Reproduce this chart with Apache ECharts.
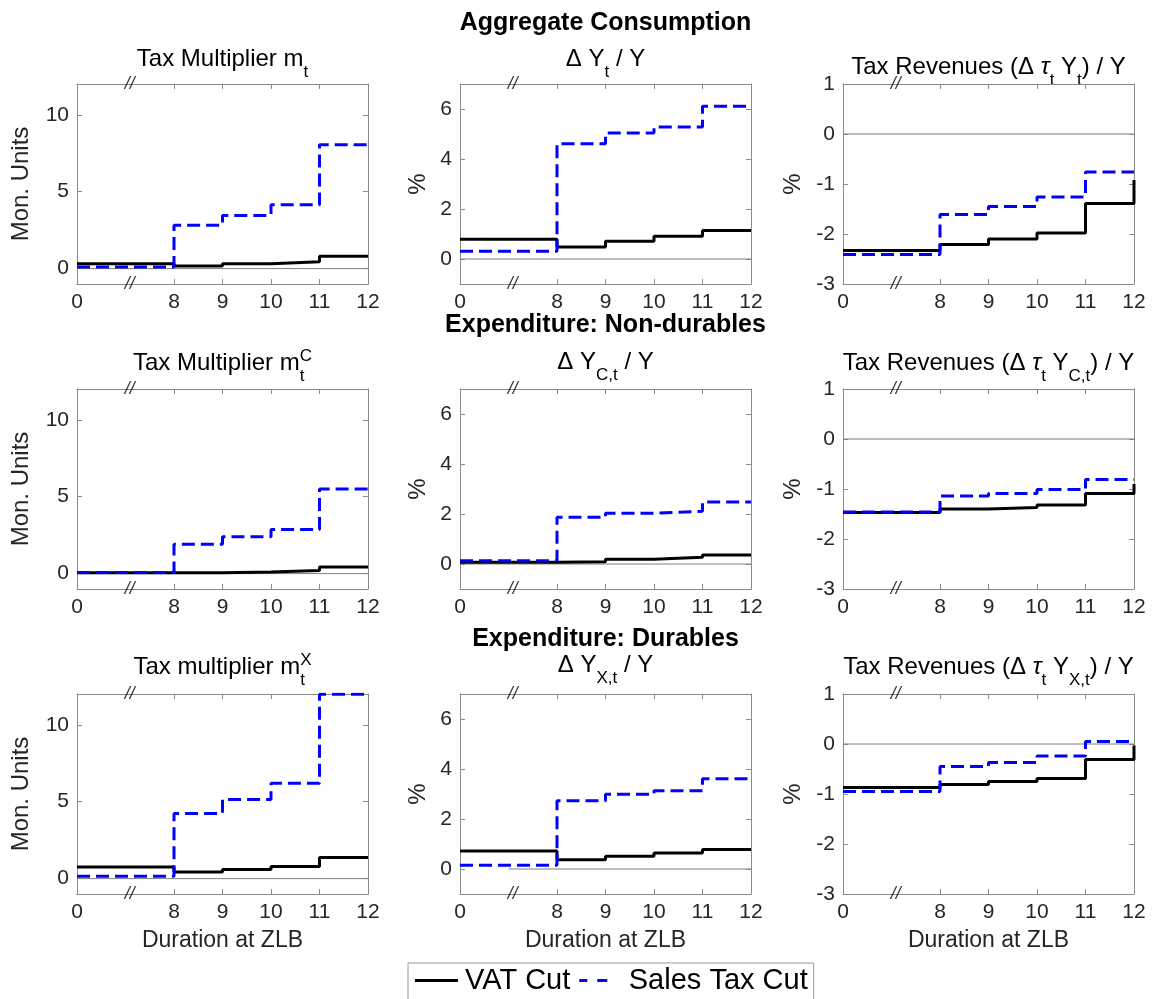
<!DOCTYPE html>
<html>
<head>
<meta charset="utf-8">
<script src="https://cdn.jsdelivr.net/npm/echarts@6/dist/echarts.min.js"></script>
<style>
  html, body { margin: 0; padding: 0; background: #fff; }
  #chart { width: 1154px; height: 999px; }
</style>
</head>
<body>
<div id="chart"></div>
<script>
// Duration at the ZLB (quarters) and the labels shown on the x axis
const durations = [0, 8, 9, 10, 11, 12];
const tickLabels = ['0', '8', '9', '10', '11', '12'];
const seriesNames = ['VAT Cut', 'Sales Tax Cut'];

// Aggregate consumption
const aggMultVat      = [0.32, 0.17, 0.32, 0.45, 0.80, 0.80];
const aggMultSales    = [0.10, 2.82, 3.46, 4.15, 8.05, 8.05];
const aggOutputVat    = [0.79, 0.48, 0.71, 0.91, 1.14, 1.14];
const aggOutputSales  = [0.31, 4.61, 5.04, 5.28, 6.11, 6.11];
const aggRevVat       = [-2.33, -2.21, -2.10, -1.98, -1.39, -0.92];
const aggRevSales     = [-2.41, -1.61, -1.45, -1.26, -0.76, -0.76];

// Expenditure: non-durables
const ndMultVat       = [0.05, 0.05, 0.10, 0.20, 0.43, 0.43];
const ndMultSales     = [0.08, 1.91, 2.39, 2.87, 5.50, 5.50];
const ndOutputVat     = [0.07, 0.09, 0.19, 0.27, 0.36, 0.36];
const ndOutputSales   = [0.13, 1.87, 2.03, 2.11, 2.48, 2.48];
const ndRevVat        = [-1.47, -1.40, -1.37, -1.32, -1.09, -0.90];
const ndRevSales      = [-1.46, -1.14, -1.09, -1.01, -0.81, -0.81];

// Expenditure: durables
const dMultVat        = [0.76, 0.43, 0.59, 0.78, 1.37, 1.37];
const dMultSales      = [0.15, 4.24, 5.15, 6.20, 11.98, 11.98];
const dOutputVat      = [0.72, 0.37, 0.51, 0.64, 0.78, 0.78];
const dOutputSales    = [0.15, 2.73, 2.99, 3.13, 3.61, 3.61];
const dRevVat         = [-0.87, -0.81, -0.75, -0.69, -0.31, -0.03];
const dRevSales       = [-0.95, -0.45, -0.37, -0.24, 0.05, 0.05];

// Broken x axis: durations 1..7 are collapsed into a single unit
const axisPos = d => (d === 0 ? 0 : d - 6);
const breakPos = 1.09;

const FONT = '"Liberation Sans", Arial, Helvetica, sans-serif';
const TICK_COLOR = '#262626';
const BOX_COLOR = '#8a8a8a';

const colLeft = [77, 460, 843];
const colWidth = 291;
const rowTop = [84, 389, 694];
const rowHeight = 200;

const columnAxes = [
  { min: -1, max: 12, ticks: [0, 5, 10], name: 'Mon. Units', nameGap: 44 },
  { min: -1, max: 7, ticks: [0, 2, 4, 6], name: '%', nameGap: 30 },
  { min: -3, max: 1, ticks: [-3, -2, -1, 0, 1], name: '%', nameGap: 38 }
];

const sectionTitles = ['Aggregate Consumption', 'Expenditure: Non-durables', 'Expenditure: Durables'];
const sectionBaselines = [32, 334, 648];

// Title pieces: plain text, subscripts (sub) and superscripts (sup)
const panels = [
  { row: 0, col: 0, vat: aggMultVat, sales: aggMultSales, base: 68,
    title: [{ t: 'Tax Multiplier m' }, { sub: 't' }] },
  { row: 0, col: 1, vat: aggOutputVat, sales: aggOutputSales, base: 68,
    title: [{ t: '\u0394 Y' }, { sub: 't' }, { t: ' / Y' }] },
  { row: 0, col: 2, vat: aggRevVat, sales: aggRevSales, base: 76,
    title: [{ t: 'Tax Revenues (\u0394 ' }, { t: '\u03c4', italic: true }, { sub: 't' }, { t: ' Y' }, { sub: 't' }, { t: ') / Y' }] },
  { row: 1, col: 0, vat: ndMultVat, sales: ndMultSales, base: 372,
    title: [{ t: 'Tax Multiplier m' }, { sub: 't', sup: 'C' }] },
  { row: 1, col: 1, vat: ndOutputVat, sales: ndOutputSales, base: 371,
    title: [{ t: '\u0394 Y' }, { sub: 'C,t' }, { t: ' / Y' }] },
  { row: 1, col: 2, vat: ndRevVat, sales: ndRevSales, base: 372,
    title: [{ t: 'Tax Revenues (\u0394 ' }, { t: '\u03c4', italic: true }, { sub: 't' }, { t: ' Y' }, { sub: 'C,t' }, { t: ') / Y' }] },
  { row: 2, col: 0, vat: dMultVat, sales: dMultSales, base: 676,
    title: [{ t: 'Tax multiplier m' }, { sub: 't', sup: 'X' }] },
  { row: 2, col: 1, vat: dOutputVat, sales: dOutputSales, base: 674, zeroFrom: 1,
    title: [{ t: '\u0394 Y' }, { sub: 'X,t' }, { t: ' / Y' }] },
  { row: 2, col: 2, vat: dRevVat, sales: dRevSales, base: 676,
    title: [{ t: 'Tax Revenues (\u0394 ' }, { t: '\u03c4', italic: true }, { sub: 't' }, { t: ' Y' }, { sub: 'X,t' }, { t: ') / Y' }] }
];

const MAIN_SIZE = 24, SUB_SIZE = 17;
const measureCtx = document.createElement('canvas').getContext('2d');
function fontOf(size, italic, bold) {
  return (italic ? 'italic ' : '') + (bold ? 'bold ' : '') + size + 'px ' + FONT;
}
function widthOf(text, font) {
  measureCtx.font = font;
  return measureCtx.measureText(text).width;
}
function textEl(text, x, baseline, size, opts) {
  opts = opts || {};
  const font = fontOf(size, opts.italic, opts.bold);
  return {
    type: 'text', x: x, y: baseline - 0.35 * size, silent: true,
    style: {
      text: text, font: font, fill: '#000',
      align: opts.align || 'left', textAlign: opts.align || 'left',
      verticalAlign: 'middle', textVerticalAlign: 'middle'
    }
  };
}
function titleElements(pieces, cx, baseline) {
  const widths = pieces.map(p => {
    if (p.t !== undefined) return widthOf(p.t, fontOf(MAIN_SIZE, p.italic));
    const ws = widthOf(p.sub || '', fontOf(SUB_SIZE));
    const wp = widthOf(p.sup || '', fontOf(SUB_SIZE));
    return Math.max(ws, wp);
  });
  const total = widths.reduce((a, b) => a + b, 0);
  let x = cx - total / 2;
  const els = [];
  pieces.forEach((p, i) => {
    if (p.t !== undefined) {
      els.push(textEl(p.t, x, baseline, MAIN_SIZE, { italic: p.italic }));
    } else {
      if (p.sub) els.push(textEl(p.sub, x, baseline + 10, SUB_SIZE));
      if (p.sup) els.push(textEl(p.sup, x, baseline - 10, SUB_SIZE));
    }
    x += widths[i];
  });
  return els;
}

const grids = [], xAxes = [], yAxes = [], series = [], graphics = [];
const tickValues = durations.map(axisPos);

panels.forEach((p, gi) => {
  const ax = columnAxes[p.col];
  const left = colLeft[p.col], top = rowTop[p.row];
  grids.push({ left: left, top: top, width: colWidth, height: rowHeight, containLabel: false });

  const boxLine = { show: true, onZero: false, lineStyle: { color: BOX_COLOR, width: 1 } };
  const innerTick = { show: true, inside: true, length: 5, lineStyle: { color: BOX_COLOR, width: 1 } };

  xAxes.push({
    type: 'value', gridIndex: gi, position: 'bottom', min: 0, max: 6,
    axisLine: boxLine, splitLine: { show: false },
    axisTick: Object.assign({}, innerTick, { customValues: tickValues }),
    axisLabel: {
      customValues: tickValues, margin: 8, color: TICK_COLOR, fontSize: 21, fontFamily: FONT,
      formatter: v => tickLabels[tickValues.indexOf(v)] || ''
    },
    name: p.row === 2 ? 'Duration at ZLB' : '', nameLocation: 'middle', nameGap: 35,
    nameTextStyle: { fontSize: 23, fontFamily: FONT, color: TICK_COLOR }
  });
  xAxes.push({
    type: 'value', gridIndex: gi, position: 'top', min: 0, max: 6,
    axisLine: boxLine, splitLine: { show: false },
    axisTick: Object.assign({}, innerTick, { customValues: tickValues }),
    axisLabel: { show: false }
  });
  yAxes.push({
    type: 'value', gridIndex: gi, position: 'left', min: ax.min, max: ax.max,
    axisLine: boxLine, splitLine: { show: false },
    axisTick: Object.assign({}, innerTick, { customValues: ax.ticks }),
    axisLabel: { customValues: ax.ticks, margin: 8, color: TICK_COLOR, fontSize: 21, fontFamily: FONT },
    name: ax.name, nameLocation: 'middle', nameGap: ax.nameGap, nameRotate: 90,
    nameTextStyle: { fontSize: 24, fontFamily: FONT, color: TICK_COLOR }
  });
  yAxes.push({
    type: 'value', gridIndex: gi, position: 'right', min: ax.min, max: ax.max,
    axisLine: boxLine, splitLine: { show: false },
    axisTick: Object.assign({}, innerTick, { customValues: ax.ticks }),
    axisLabel: { show: false }
  });

  const xi = gi * 2, yi = gi * 2;
  // zero reference line
  series.push({
    type: 'line', xAxisIndex: xi, yAxisIndex: yi, silent: true, symbol: 'none', z: 1,
    data: [[p.zeroFrom || 0, 0], [6, 0]],
    lineStyle: { color: '#7f7f7f', width: 1 }, animation: false
  });
  series.push({
    name: seriesNames[0], type: 'line', step: 'end', xAxisIndex: xi, yAxisIndex: yi,
    symbol: 'none', z: 3, color: '#000',
    data: durations.map((d, i) => [axisPos(d), p.vat[i]]),
    lineStyle: { color: '#000', width: 3, type: 'solid' }, animation: false
  });
  series.push({
    name: seriesNames[1], type: 'line', step: 'end', xAxisIndex: xi, yAxisIndex: yi,
    symbol: 'none', z: 4, color: '#0000ff',
    data: durations.map((d, i) => [axisPos(d), p.sales[i]]),
    lineStyle: { color: '#0000ff', width: 3, type: [13, 6] }, animation: false
  });
  // axis-break markers on the top and bottom edges
  series.push({
    type: 'scatter', xAxisIndex: xi, yAxisIndex: yi, silent: true, clip: false, z: 6,
    symbol: 'circle', symbolSize: 1, itemStyle: { color: 'rgba(0,0,0,0)' },
    data: [[breakPos, ax.max], [breakPos, ax.min]],
    label: { show: true, position: 'inside', formatter: '//', color: '#000',
             fontSize: 18, fontStyle: 'italic', fontFamily: FONT },
    animation: false
  });

  graphics.push(...titleElements(p.title, left + colWidth / 2, p.base));
});

sectionTitles.forEach((t, r) => {
  graphics.push(textEl(t, colLeft[1] + colWidth / 2, sectionBaselines[r], 25, { bold: true, align: 'center' }));
});

// legend glyphs: a solid stroke and a pair of dashes
const solidIcon = 'path://M0,0H43V3H0Z';
const dashIcon = 'path://M0,0H8V3H0Z M18,0H28V3H18Z';

const chart = echarts.init(document.getElementById('chart'), null, { renderer: 'canvas' });
chart.setOption({
  animation: false,
  backgroundColor: '#fff',
  textStyle: { fontFamily: FONT },
  grid: grids,
  xAxis: xAxes,
  yAxis: yAxes,
  series: series,
  graphic: graphics,
  legend: {
    data: [
      { name: seriesNames[0], icon: solidIcon, textStyle: { padding: [0, 0, 0, 2] } },
      { name: seriesNames[1], icon: dashIcon, textStyle: { padding: [0, 0, 0, 9] } }
    ],
    left: 408, top: 963, orient: 'horizontal', selectedMode: false,
    itemWidth: 43, itemHeight: 3, itemGap: 9, symbolKeepAspect: true,
    itemStyle: { borderWidth: 0 },
    padding: [3, 6, 12, 7], borderColor: '#999', borderWidth: 1, borderRadius: 0,
    textStyle: { fontSize: 29, color: '#000', fontFamily: FONT }
  }
});
</script>
</body>
</html>
